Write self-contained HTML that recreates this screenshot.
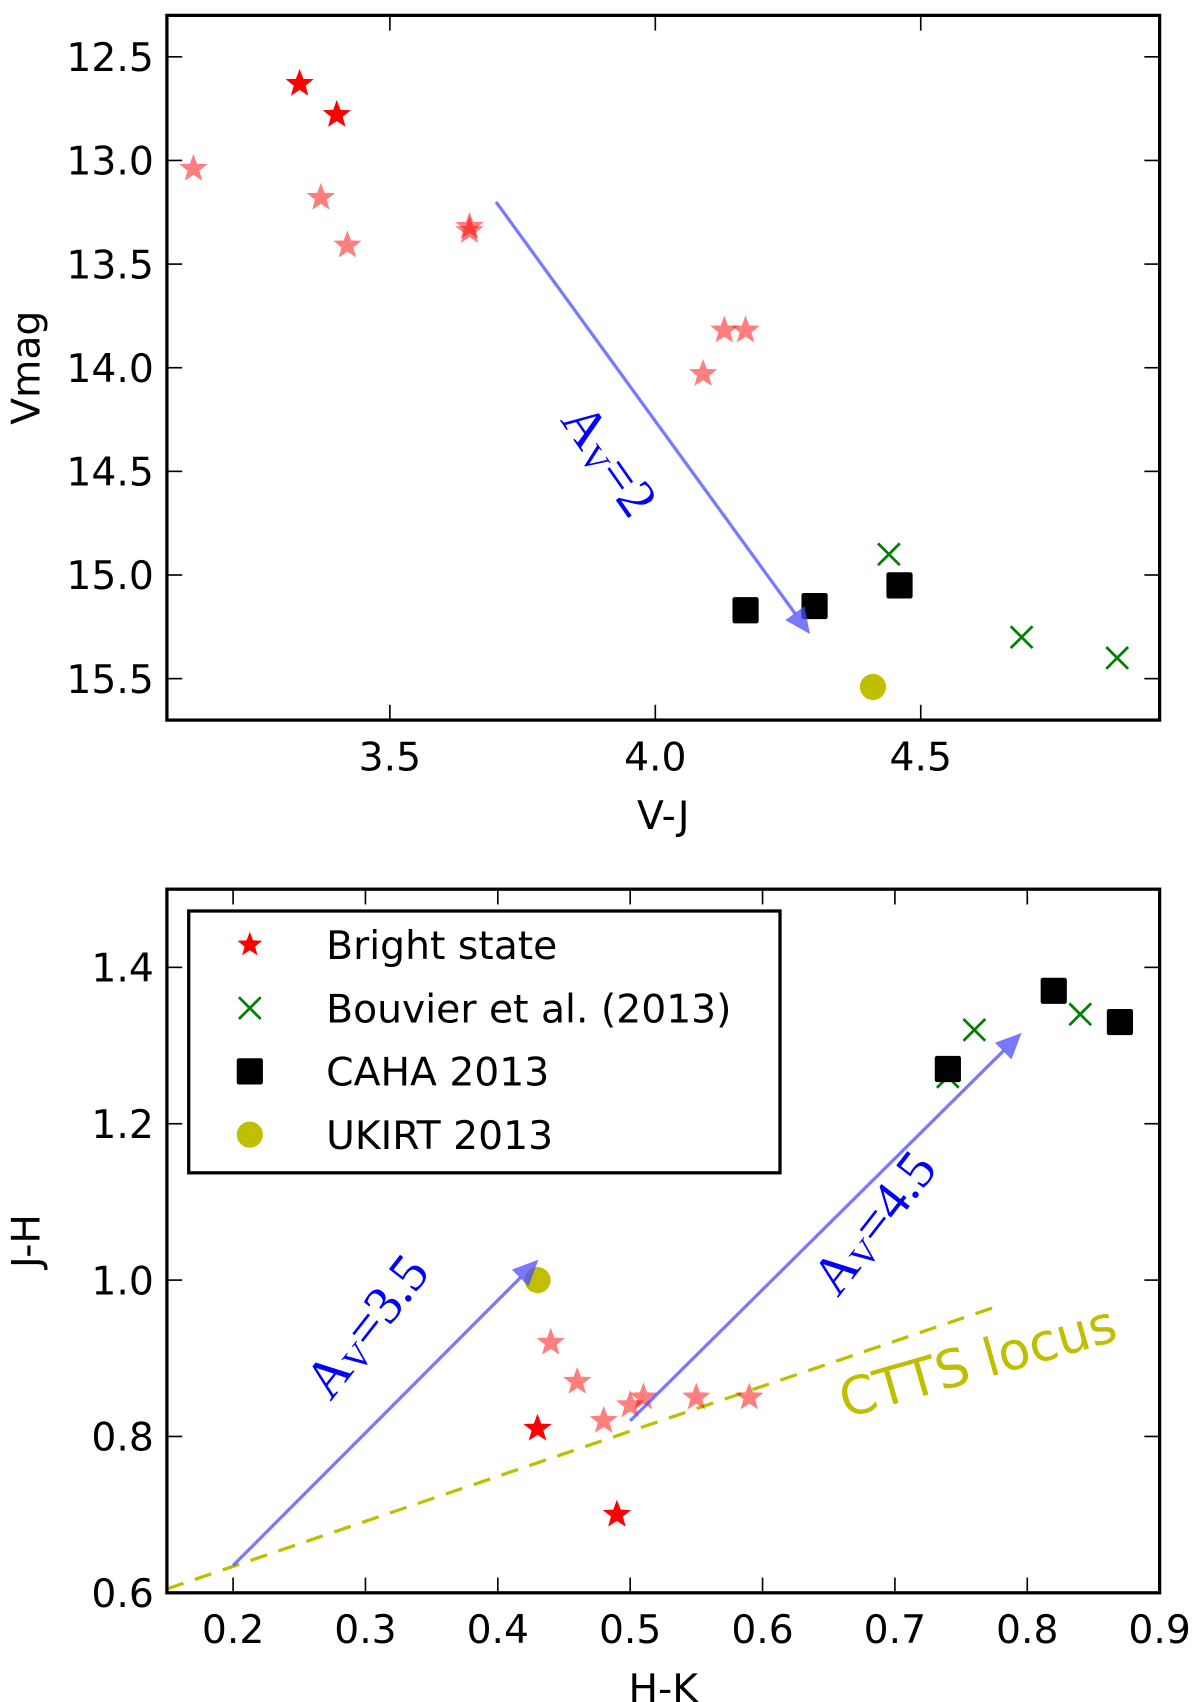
<!DOCTYPE html>
<html><head><meta charset="utf-8"><style>
html,body{margin:0;padding:0;background:#fff;}
svg{display:block;}
text{font-family:"DejaVu Sans","Liberation Sans",sans-serif;}
.serif{font-family:"Liberation Serif","DejaVu Serif",serif;}
</style></head><body>
<svg id="chart" width="1200" height="1702" viewBox="0 0 1100 1560" xmlns="http://www.w3.org/2000/svg">
<g id="top"></g>
<g id="bot"></g>
</svg>
<script>
// Top panel data (V-J vs Vmag)
const topBrightX=[3.33,3.40];
const topBrightY=[12.63,12.78];
const topFadedX=[3.13,3.37,3.42,3.65,3.65,4.13,4.17,4.09];
const topFadedY=[13.04,13.18,13.41,13.32,13.34,13.82,13.82,14.03];
const topBouvX=[4.44,4.69,4.87];
const topBouvY=[14.9,15.3,15.4];
const topCahaX=[4.17,4.30,4.46];
const topCahaY=[15.17,15.15,15.05];
const topUkirtX=[4.41];
const topUkirtY=[15.54];
const topXTicks=[3.5,4.0,4.5];
const topYTicks=[12.5,13.0,13.5,14.0,14.5,15.0,15.5];
// Bottom panel data (H-K vs J-H)
const botBrightX=[0.43,0.49];
const botBrightY=[0.81,0.70];
const botFadedX=[0.44,0.46,0.48,0.50,0.51,0.55,0.59];
const botFadedY=[0.92,0.87,0.82,0.84,0.85,0.85,0.85];
const botBouvX=[0.74,0.76,0.84];
const botBouvY=[1.26,1.32,1.34];
const botCahaX=[0.74,0.82,0.87];
const botCahaY=[1.27,1.37,1.33];
const botUkirtX=[0.43];
const botUkirtY=[1.00];
const botXTicks=[0.2,0.3,0.4,0.5,0.6,0.7,0.8,0.9];
const botYTicks=[0.6,0.8,1.0,1.2,1.4];
const locusX=[0.15,0.78];
const locusY=[0.605,0.968];

const NS="http://www.w3.org/2000/svg";
function mk(parent,tag,attrs,txt){const e=document.createElementNS(NS,tag);for(const k in attrs)e.setAttribute(k,attrs[k]);if(txt!==undefined)e.textContent=txt;parent.appendChild(e);return e;}
function starPts(cx,cy,r){let p=[];for(let i=0;i<10;i++){const a=-Math.PI/2+i*Math.PI/5;const rr=i%2?r*0.42:r;p.push((cx+rr*Math.cos(a)).toFixed(1)+','+(cy+rr*Math.sin(a)).toFixed(1));}return p.join(' ');}

function panel(g,L,R,T,B,xmin,xmax,ymin,ymax,xt,yt,xfmt,yfmt,xlabel,ylabel,ylx){
  const sx=v=>L+(v-xmin)/(xmax-xmin)*(R-L);
  const sy=v=>T+(v-ymin)/(ymax-ymin)*(B-T);
  xt.forEach(v=>{const x=sx(v);
    let t=mk(g,'line',{x1:x,x2:x,y1:B,y2:B-14,stroke:'#000','stroke-width':1.5});
    
    t=mk(g,'line',{x1:x,x2:x,y1:T,y2:T+14,stroke:'#000','stroke-width':1.5});
    
    t=mk(g,'text',{x:x,y:B+46,'font-size':36,'text-anchor':'middle'},v.toFixed(xfmt));
    });
  yt.forEach(v=>{const y=sy(v);
    let t=mk(g,'line',{x1:L,x2:L+14,y1:y,y2:y,stroke:'#000','stroke-width':1.5});
    
    t=mk(g,'line',{x1:R,x2:R-14,y1:y,y2:y,stroke:'#000','stroke-width':1.5});
    
    t=mk(g,'text',{x:L-12,y:y+13,'font-size':36,'text-anchor':'end'},v.toFixed(yfmt));
    });
  let a=mk(g,'text',{x:(L+R)/2,y:B+100,'font-size':36,'text-anchor':'middle'},xlabel);
  
  a=mk(g,'text',{x:ylx,y:(T+B)/2,'font-size':36,'text-anchor':'middle',transform:`rotate(-90 ${ylx} ${(T+B)/2})`},ylabel);
  
  return {sx,sy,frame:()=>{const f=mk(g,'rect',{x:L,y:T,width:R-L,height:B-T,fill:'none',stroke:'#000','stroke-width':3});}};
}
function markers(g,s,xs,ys,type,op){
  xs.forEach((xv,i)=>{const x=s.sx(xv),y=s.sy(ys[i]);let e;
    if(type==='star'){e=mk(g,'polygon',{points:starPts(x,y,11.5),fill:'#ff0000',stroke:'#ff0000','stroke-width':1.5,opacity:op});
      }
    else if(type==='x'){e=mk(g,'path',{d:`M${x-10},${y-10}L${x+10},${y+10}M${x-10},${y+10}L${x+10},${y-10}`,stroke:'#007f00','stroke-width':2.5,fill:'none'});
      }
    else if(type==='sq'){e=mk(g,'rect',{x:x-12,y:y-12,width:24,height:24,rx:2,fill:'#000'});
      }
    else {e=mk(g,'circle',{cx:x,cy:y,r:12,fill:'#bfbf00'});
      }
    });
}
function arrow(g,x1,y1,x2,y2,name){
  const ang=Math.atan2(y2-y1,x2-x1);const hl=22,hw=10;
  const bx=x2-hl*Math.cos(ang),by=y2-hl*Math.sin(ang);
  let e=mk(g,'line',{x1:x1,y1:y1,x2:bx,y2:by,stroke:'#4d4dff','stroke-width':3,opacity:0.75});
  
  const px=-Math.sin(ang),py=Math.cos(ang);
  e=mk(g,'polygon',{points:`${x2},${y2} ${bx+hw*px},${by+hw*py} ${bx-hw*px},${by-hw*py}`,fill:'#4d4dff',stroke:'#4d4dff',opacity:0.75});
  
}
function avLabel(g,x,y,rot,val,name){
  const t=mk(g,'text',{x:x,y:y,'font-size':50,fill:'#0000ff','class':'serif',transform:`rotate(${rot} ${x} ${y})`});
  
  mk(t,'tspan',{},'A');mk(t,'tspan',{'font-size':32,dy:5},'V');mk(t,'tspan',{dy:-5},'='+val);
}

// top
const gt=document.getElementById('top');
const st=panel(gt,153,1063,14,660,3.08,4.95,12.3,15.7,topXTicks,topYTicks,1,1,'V-J','Vmag',36);
markers(gt,st,topFadedX,topFadedY,'star',0.5);
markers(gt,st,topBrightX,topBrightY,'star',1);
markers(gt,st,topBouvX,topBouvY,'x');
markers(gt,st,topCahaX,topCahaY,'sq');
markers(gt,st,topUkirtX,topUkirtY,'c');
arrow(gt,st.sx(3.70),st.sy(13.2),st.sx(4.29),st.sy(15.28),'av2-arrow');
avLabel(gt,513,385,55,'2','av2-label');
st.frame();

// bottom
const gb=document.getElementById('bot');
const sb=panel(gb,153,1063,815,1460,0.15,0.9,1.5,0.6,botXTicks,botYTicks,1,1,'H-K','J-H',36);
let lc=mk(gb,'line',{x1:sb.sx(locusX[0]),y1:sb.sy(locusY[0]),x2:sb.sx(locusX[1]),y2:sb.sy(locusY[1]),stroke:'#bfbf00','stroke-width':3,'stroke-dasharray':'16,11'});

let lt=mk(gb,'text',{x:775,y:1300,'font-size':48,fill:'#bfbf00',transform:'rotate(-16 775 1300)'},'CTTS locus');

markers(gb,sb,botFadedX,botFadedY,'star',0.5);
markers(gb,sb,botBrightX,botBrightY,'star',1);
markers(gb,sb,botBouvX,botBouvY,'x');
markers(gb,sb,botCahaX,botCahaY,'sq');
markers(gb,sb,botUkirtX,botUkirtY,'c');
arrow(gb,sb.sx(0.20),sb.sy(0.635),sb.sx(0.43),sb.sy(1.025),'av35-arrow');
arrow(gb,sb.sx(0.50),sb.sy(0.82),sb.sx(0.795),sb.sy(1.315),'av45-arrow');
avLabel(gb,303,1285,-52,'3.5','av35-label');
avLabel(gb,768,1190,-52,'4.5','av45-label');
// legend
const lg=mk(gb,'g',{});
let lb=mk(lg,'rect',{x:173,y:835,width:542,height:240,fill:'#fff',stroke:'#000','stroke-width':3});

const labels=['Bright state','Bouvier et al. (2013)','CAHA 2013','UKIRT 2013'];
labels.forEach((s,i)=>{const y=866+i*58;
  let m;
  if(i===0)m=mk(lg,'polygon',{points:starPts(229,y,12),fill:'#ff0000'});
  else if(i===1)m=mk(lg,'path',{d:`M219,${y-10}L239,${y+10}M219,${y+10}L239,${y-10}`,stroke:'#007f00','stroke-width':2.5});
  else if(i===2)m=mk(lg,'rect',{x:217,y:y-12,width:24,height:24,rx:2,fill:'#000'});
  else m=mk(lg,'circle',{cx:229,cy:y,r:12,fill:'#bfbf00'});
  
  const t=mk(lg,'text',{x:299,y:y+13,'font-size':36},s);
  });
sb.frame();
</script>
</body></html>
